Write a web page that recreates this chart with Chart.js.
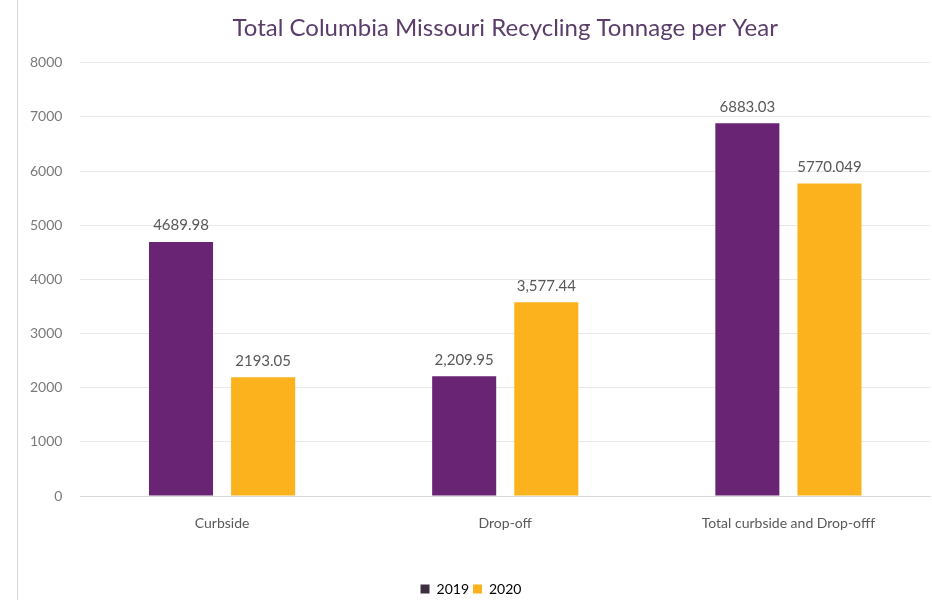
<!DOCTYPE html>
<html>
<head>
<meta charset="utf-8">
<script src="https://cdn.jsdelivr.net/npm/chart.js@4"></script>
<style>
  body { margin: 0; background: #fff; }
  #wrap { position: relative; width: 932px; height: 600px; }
  #edge { position: absolute; left: 17px; top: 0; width: 1px; height: 600px; background: #d8d8d8; }
</style>
</head>
<body>
<div id="wrap">
  <canvas id="chart" width="932" height="600"></canvas>
  <div id="edge"></div>
</div>
<script>
// data
const categories = ['Curbside', 'Drop-off', 'Total curbside and Drop-offf'];
const years = ['2019', '2020'];
const values2019 = [4689.98, 2209.95, 6883.03];
const values2020 = [2193.05, 3577.44, 5770.049];
const labels2019 = ['4689.98', '2,209.95', '6883.03'];
const labels2020 = ['2193.05', '3,577.44', '5770.049'];
const yTicks = [0, 1000, 2000, 3000, 4000, 5000, 6000, 7000, 8000];

const FONT = 'Lato, "Open Sans", sans-serif';

// draw the value above each bar
const valueLabels = {
  id: 'valueLabels',
  afterDatasetsDraw(chart) {
    const ctx = chart.ctx;
    ctx.save();
    ctx.font = '15px ' + FONT;
    ctx.fillStyle = '#595959';
    ctx.textAlign = 'center';
    ctx.textBaseline = 'bottom';
    chart.data.datasets.forEach((ds, i) => {
      chart.getDatasetMeta(i).data.forEach((bar, j) => {
        ctx.fillText(ds.valueText[j], bar.x, bar.y - 9);
      });
    });
    ctx.restore();
  }
};

const ctx = document.getElementById('chart').getContext('2d');

new Chart(ctx, {
  type: 'bar',
  data: {
    labels: categories,
    datasets: [
      {
        label: years[0],
        data: values2019,
        valueText: labels2019,
        backgroundColor: '#692574',
        categoryPercentage: 0.58,
        barPercentage: 0.78
      },
      {
        label: years[1],
        data: values2020,
        valueText: labels2020,
        backgroundColor: '#fbb21c',
        categoryPercentage: 0.58,
        barPercentage: 0.78
      }
    ]
  },
  options: {
    responsive: false,
    animation: false,
    layout: { padding: { left: 12, right: 2, top: 6, bottom: -6 } },
    plugins: {
      title: {
        display: true,
        fullSize: false,
        text: 'Total Columbia Missouri Recycling Tonnage per Year',
        color: '#5a3d6b',
        font: { family: FONT, size: 24, weight: 'normal' },
        padding: { top: 8, bottom: 20 }
      },
      legend: {
        position: 'bottom',
        labels: {
          color: '#595959',
          font: { family: FONT, size: 14 },
          boxWidth: 9,
          boxHeight: 9,
          padding: 4,
          generateLabels(chart) {
            return chart.data.datasets.map((ds, i) => ({
              text: ds.label,
              fillStyle: i === 0 ? '#3d2f3f' : '#fbb21c',
              strokeStyle: 'transparent',
              lineWidth: 0,
              datasetIndex: i
            }));
          }
        }
      },
      tooltip: { enabled: false }
    },
    scales: {
      x: {
        grid: { display: false },
        border: { color: '#d9d9d9' },
        ticks: {
          color: '#595959',
          font: { family: FONT, size: 14 },
          padding: 11
        },
        afterFit(axis) {
          axis.height = 82;
        }
      },
      y: {
        min: 0,
        max: 8000,
        afterBuildTicks(axis) {
          axis.ticks = yTicks.map(v => ({ value: v }));
        },
        grid: { color: '#e8e8e8', drawTicks: false },
        border: { display: false },
        ticks: {
          color: '#7a7a7a',
          font: { family: FONT, size: 14 },
          padding: 18,
          callback: v => String(v)
        }
      }
    }
  },
  plugins: [valueLabels]
});
</script>
</body>
</html>
